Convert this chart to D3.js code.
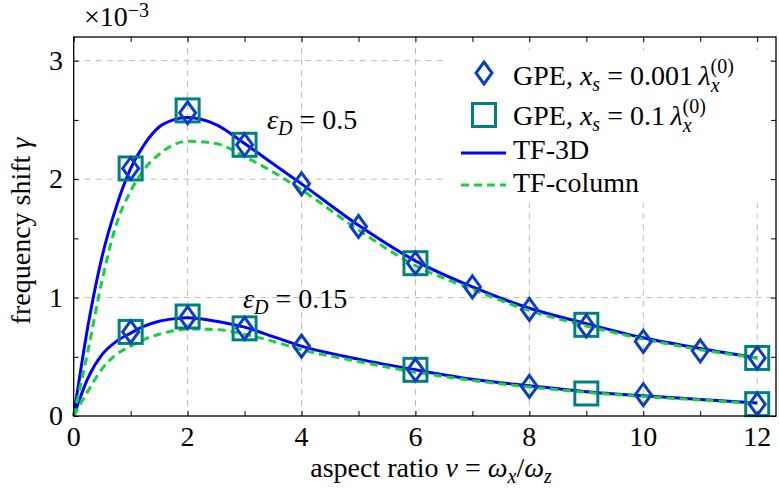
<!DOCTYPE html>
<html>
<head>
<meta charset="utf-8" />
<title>frequency shift</title>
<script src="https://d3js.org/d3.v7.min.js"></script>
<style>
  body { margin: 0; background: white; }
  text { font-family: "Liberation Serif", "DejaVu Serif", serif; fill: black; }
</style>
</head>
<body>
<svg id="chart" width="779" height="498"></svg>
<script>
// curve sample points (aspect ratio)
var xCurve = [0, 0.25, 0.5, 0.75, 1, 1.25, 1.5, 1.75, 2, 2.5, 3, 3.5, 4, 5, 6, 7, 8, 9, 10, 11, 12];
// TF-3D and TF-column, eps_D = 0.5 (units of 1e-3)
var tf3dHigh  = [0, 0.76, 1.35, 1.77, 2.09, 2.30, 2.44, 2.50, 2.52, 2.46, 2.30, 2.13, 1.96, 1.61, 1.31, 1.09, 0.91, 0.78, 0.66, 0.57, 0.49];
var tfColHigh = [0, 0.55, 1.15, 1.62, 1.90, 2.09, 2.21, 2.29, 2.32, 2.30, 2.19, 2.06, 1.91, 1.57, 1.27, 1.07, 0.89, 0.76, 0.65, 0.56, 0.49];
// TF-3D and TF-column, eps_D = 0.15
var tf3dLow   = [0, 0.32, 0.52, 0.63, 0.70, 0.76, 0.80, 0.82, 0.83, 0.80, 0.75, 0.67, 0.59, 0.48, 0.39, 0.31, 0.255, 0.205, 0.17, 0.14, 0.11];
var tfColLow  = [0, 0.21, 0.40, 0.52, 0.59, 0.65, 0.69, 0.72, 0.735, 0.73, 0.69, 0.63, 0.56, 0.46, 0.37, 0.30, 0.245, 0.20, 0.165, 0.135, 0.105];

// GPE, x_s = 0.001 lambda
var gpeFineX    = [1, 2, 3, 4, 5, 6, 7, 8, 9, 10, 11, 12];
var gpeFineHigh = [2.09, 2.56, 2.29, 1.96, 1.60, 1.29, 1.09, 0.90, 0.76, 0.63, 0.55, 0.49];
var gpeFineLowX = [1, 2, 3, 4, 6, 8, 10, 12];
var gpeFineLow  = [0.71, 0.83, 0.74, 0.59, 0.39, 0.25, 0.18, 0.10];
// GPE, x_s = 0.1 lambda
var gpeCoarseX    = [1, 2, 3, 6, 9, 12];
var gpeCoarseHigh = [2.09, 2.58, 2.29, 1.29, 0.77, 0.49];
var gpeCoarseLow  = [0.71, 0.84, 0.74, 0.39, 0.19, 0.10];

var xTicks = [0, 2, 4, 6, 8, 10, 12];
var yTicks = [0, 1, 2, 3];

var svg = d3.select("#chart");
var pLeft = 73.7, pRight = 776, pTop = 37, pBottom = 416;
var fs = 28, fsSmall = 20;
var eq = "\u2005=\u2005";

var x = d3.scaleLinear().domain([0, 12.33]).range([pLeft, pRight]);
var y = d3.scaleLinear().domain([0, 3.2]).range([pBottom, pTop]);

// grid
svg.append("g").selectAll("line").data(xTicks.slice(1)).enter().append("line")
    .attr("x1", d => x(d)).attr("x2", d => x(d))
    .attr("y1", pTop).attr("y2", pBottom)
    .attr("stroke", "#bdbdbd").attr("stroke-dasharray", "6,5").attr("stroke-width", 1);
svg.append("g").selectAll("line").data(yTicks.slice(1)).enter().append("line")
    .attr("x1", pLeft).attr("x2", pRight)
    .attr("y1", d => y(d)).attr("y2", d => y(d))
    .attr("stroke", "#bdbdbd").attr("stroke-dasharray", "6,5").attr("stroke-width", 1);

// axes with inward ticks
var xMinor = d3.range(0, 13, 1);
var yMinor = d3.range(0, 3.01, 0.5);
svg.append("g").attr("transform", "translate(0," + pBottom + ")")
    .call(d3.axisBottom(x).tickValues(xMinor).tickSize(-5).tickFormat(""))
    .call(g => g.select(".domain").remove());
svg.append("g").attr("transform", "translate(0," + pTop + ")")
    .call(d3.axisTop(x).tickValues(xMinor).tickSize(-5).tickFormat(""))
    .call(g => g.select(".domain").remove());
svg.append("g").attr("transform", "translate(" + pLeft + ",0)")
    .call(d3.axisLeft(y).tickValues(yMinor).tickSize(-5).tickFormat(""))
    .call(g => g.select(".domain").remove());
svg.append("g").attr("transform", "translate(" + pRight + ",0)")
    .call(d3.axisRight(y).tickValues(yMinor).tickSize(-5).tickFormat(""))
    .call(g => g.select(".domain").remove());

// tick labels
svg.append("g").selectAll("text").data(xTicks).enter().append("text")
    .attr("x", d => x(d)).attr("y", 446)
    .attr("text-anchor", "middle").attr("font-size", fs)
    .text(d => d);
svg.append("g").selectAll("text").data(yTicks).enter().append("text")
    .attr("x", 63).attr("y", d => y(d) + 9)
    .attr("text-anchor", "end").attr("font-size", fs)
    .text(d => d);

// curves
var line = d3.line().x(d => x(d[0])).y(d => y(d[1])).curve(d3.curveMonotoneX);
function drawCurve(vals, color, dash) {
    svg.append("path")
        .datum(xCurve.map((v, i) => [v, vals[i]]))
        .attr("d", line)
        .attr("fill", "none")
        .attr("stroke", color)
        .attr("stroke-width", 3)
        .attr("stroke-dasharray", dash);
}
drawCurve(tf3dHigh, "#0000ff", null);
drawCurve(tf3dLow, "#0000ff", null);
drawCurve(tfColHigh, "#14d23c", "8,5");
drawCurve(tfColLow, "#14d23c", "8,5");

// markers
var teal = "#008080", dblue = "#0a40c0";
function squares(xs, ys) {
    svg.append("g").selectAll("rect").data(xs).enter().append("rect")
        .attr("x", (d, i) => x(d) - 11.5).attr("y", (d, i) => y(ys[i]) - 11.5)
        .attr("width", 23).attr("height", 23)
        .attr("fill", "none").attr("stroke", teal).attr("stroke-width", 3);
}
function diamonds(xs, ys) {
    svg.append("g").selectAll("path").data(xs).enter().append("path")
        .attr("transform", (d, i) => "translate(" + x(d) + "," + y(ys[i]) + ")")
        .attr("d", "M0,-11L8,0L0,11L-8,0Z")
        .attr("fill", "none").attr("stroke", dblue).attr("stroke-width", 3);
}
squares(gpeCoarseX, gpeCoarseHigh);
squares(gpeCoarseX, gpeCoarseLow);
diamonds(gpeFineX, gpeFineHigh);
diamonds(gpeFineLowX, gpeFineLow);

// frame
svg.append("rect").attr("x", pLeft).attr("y", pTop)
    .attr("width", pRight - pLeft).attr("height", pBottom - pTop)
    .attr("fill", "none").attr("stroke", "black").attr("stroke-width", 1.3);

// annotations
function epsLabel(px, py, val) {
    var t = svg.append("text").attr("x", px).attr("y", py).attr("font-size", fs);
    t.append("tspan").attr("font-style", "italic").text("ε");
    t.append("tspan").attr("font-style", "italic").attr("font-size", fsSmall).attr("dy", 6).text("D");
    t.append("tspan").attr("dy", -6).text(eq + val);
}
epsLabel(267, 129, "0.5");
epsLabel(243, 308, "0.15");

// multiplier
var m = svg.append("text").attr("x", 84).attr("y", 26).attr("font-size", fs);
m.append("tspan").text("×10");
m.append("tspan").attr("font-size", fsSmall).attr("dy", -9).text("−3");

// axis titles
var xl = svg.append("text").attr("x", 431).attr("y", 477)
    .attr("text-anchor", "middle").attr("font-size", fs);
xl.append("tspan").text("aspect ratio ");
xl.append("tspan").attr("font-style", "italic").text("ν");
xl.append("tspan").text(eq);
xl.append("tspan").attr("font-style", "italic").text("ω");
xl.append("tspan").attr("font-style", "italic").attr("font-size", fsSmall).attr("dy", 6).text("x");
xl.append("tspan").attr("dy", -6).text("/");
xl.append("tspan").attr("font-style", "italic").text("ω");
xl.append("tspan").attr("font-style", "italic").attr("font-size", fsSmall).attr("dy", 6).text("z");

var yl = svg.append("text").attr("transform", "translate(30,231) rotate(-90)")
    .attr("text-anchor", "middle").attr("font-size", fs);
yl.append("tspan").text("frequency shift ");
yl.append("tspan").attr("font-style", "italic").text("γ");

// legend
var lg = svg.append("g");
lg.append("rect").attr("x", 447).attr("y", 50).attr("width", 323).attr("height", 153)
    .attr("fill", "white");
lg.append("path").attr("transform", "translate(484,73)")
    .attr("d", "M0,-11L8,0L0,11L-8,0Z")
    .attr("fill", "none").attr("stroke", dblue).attr("stroke-width", 3);
lg.append("rect").attr("x", 472.5).attr("y", 103.5).attr("width", 23).attr("height", 23)
    .attr("fill", "none").attr("stroke", teal).attr("stroke-width", 3);
lg.append("line").attr("x1", 461).attr("x2", 506).attr("y1", 153).attr("y2", 153)
    .attr("stroke", "#0000ff").attr("stroke-width", 3);
lg.append("line").attr("x1", 461).attr("x2", 506).attr("y1", 185).attr("y2", 185)
    .attr("stroke", "#14d23c").attr("stroke-width", 3).attr("stroke-dasharray", "8,5");

function gpeLabel(py, val) {
    var t = lg.append("text").attr("x", 513).attr("y", py).attr("font-size", fs);
    t.append("tspan").text("GPE, ");
    t.append("tspan").attr("font-style", "italic").text("x");
    t.append("tspan").attr("font-style", "italic").attr("font-size", fsSmall).attr("dy", 6).text("s");
    t.append("tspan").attr("dy", -6).text(eq + val + "\u2009");
    t.append("tspan").attr("font-style", "italic").text("λ");
    t.append("tspan").attr("font-style", "italic").attr("font-size", fsSmall).attr("dy", 7).text("x");
    t.append("tspan").attr("font-size", fsSmall).attr("dx", -9).attr("dy", -19).text("(0)");
}
gpeLabel(85, "0.001");
gpeLabel(125, "0.1");
lg.append("text").attr("x", 513).attr("y", 159).attr("font-size", fs).text("TF-3D");
lg.append("text").attr("x", 513).attr("y", 192).attr("font-size", fs).text("TF-column");
</script>
</body>
</html>
